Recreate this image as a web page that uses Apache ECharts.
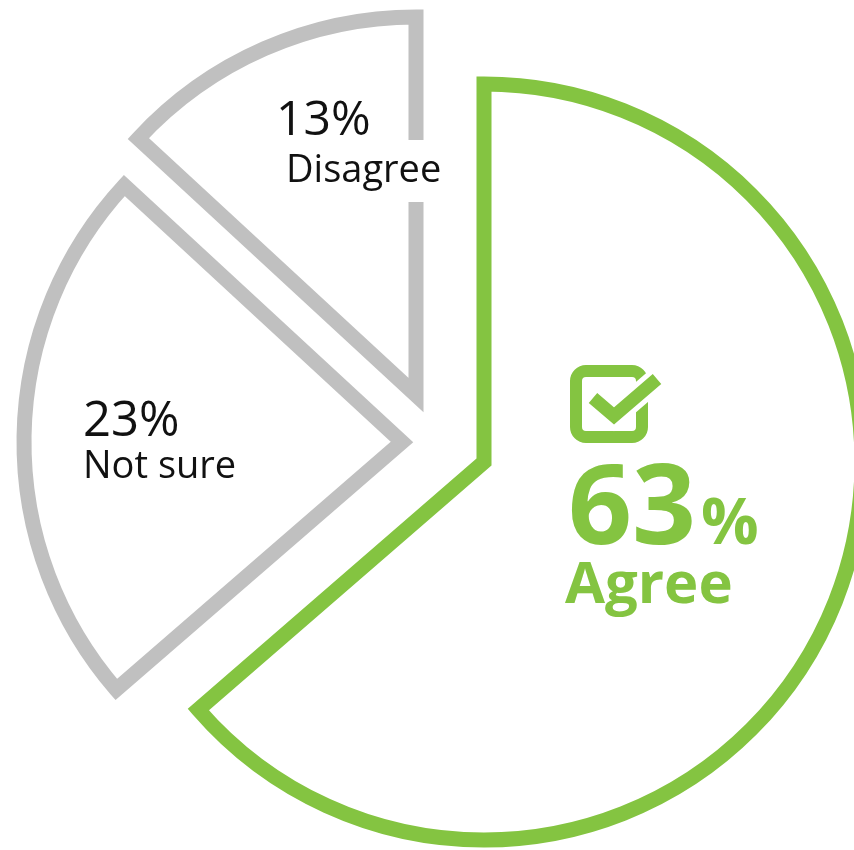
<!DOCTYPE html>
<html>
<head>
<meta charset="utf-8">
<script src="https://cdn.jsdelivr.net/npm/echarts@6/dist/echarts.min.js"></script>
<style>
html,body{margin:0;padding:0;background:#fff;}
#chart{width:854px;height:850px;}
</style>
</head>
<body>
<div id="chart"></div>
<script>
const categories = ['Agree', 'Not sure', 'Disagree'];
const values = [63, 23, 13];
const percentLabels = values.map(v => v + '%');

const GREEN = '#84C441';
const GRAY = '#C0C0C0';
const RADIUS = 378;
const sliceCenters = [[484, 462], [402, 442], [416, 395]];
const sliceColors = [GREEN, GRAY, GRAY];

function sliceSeries(idx) {
  return {
    type: 'pie',
    center: sliceCenters[idx],
    radius: RADIUS,
    startAngle: 90,
    clockwise: true,
    silent: true,
    animation: false,
    z: 1,
    emphasis: { disabled: true },
    label: { show: false },
    labelLine: { show: false },
    data: values.map((v, i) => ({
      name: categories[i],
      value: v,
      itemStyle: i === idx
        ? { color: 'rgba(0,0,0,0)', borderColor: sliceColors[idx], borderWidth: 15, borderJoin: 'miter', borderMiterLimit: 10 }
        : { color: 'rgba(0,0,0,0)', borderColor: 'rgba(0,0,0,0)', borderWidth: 0 }
    }))
  };
}

const chart = echarts.init(document.getElementById('chart'), null, { renderer: 'canvas' });

const FONT = '"Open Sans", "Noto Sans", sans-serif';

function txt(text, x, y, size, color, weight, extra) {
  const style = { text: text, fill: color, font: (weight || 'normal') + ' ' + size + 'px ' + FONT, align: 'left', verticalAlign: 'middle' };
  if (extra) Object.assign(style, extra);
  return { type: 'text', x: x, y: y, z: 100, silent: true, style: style };
}

chart.setOption({
  backgroundColor: '#ffffff',
  series: [sliceSeries(0), sliceSeries(1), sliceSeries(2)],
  graphic: {
    elements: [
      txt(percentLabels[2], 276, 121, 48, '#111'),
      txt(categories[2], 284, 171, 38, '#111', 'normal', { backgroundColor: '#ffffff', padding: [14, 2, 10, 2] }),
      txt(percentLabels[1], 83, 422, 49, '#111'),
      txt(categories[1], 83, 467, 38, '#111'),
      txt(String(values[0]), 568, 512, 112, GREEN, 'bold'),
      txt('%', 701, 526, 64, GREEN, 'bold'),
      txt(categories[0], 565, 586, 58, GREEN, 'bold'),
      {
        type: 'rect', silent: true, z: 100,
        shape: { x: 576, y: 371, width: 66, height: 66, r: 10 },
        style: { fill: 'none', stroke: GREEN, lineWidth: 12 }
      },
      {
        type: 'polyline', silent: true, z: 101,
        shape: { points: [[593, 398], [614, 416], [657, 379]] },
        style: { fill: 'none', stroke: '#ffffff', lineWidth: 23, lineCap: 'butt', lineJoin: 'miter' }
      },
      {
        type: 'polyline', silent: true, z: 102,
        shape: { points: [[593, 398], [614, 416], [657, 379]] },
        style: { fill: 'none', stroke: GREEN, lineWidth: 13, lineCap: 'butt', lineJoin: 'miter' }
      }
    ]
  }
});
</script>
</body>
</html>
